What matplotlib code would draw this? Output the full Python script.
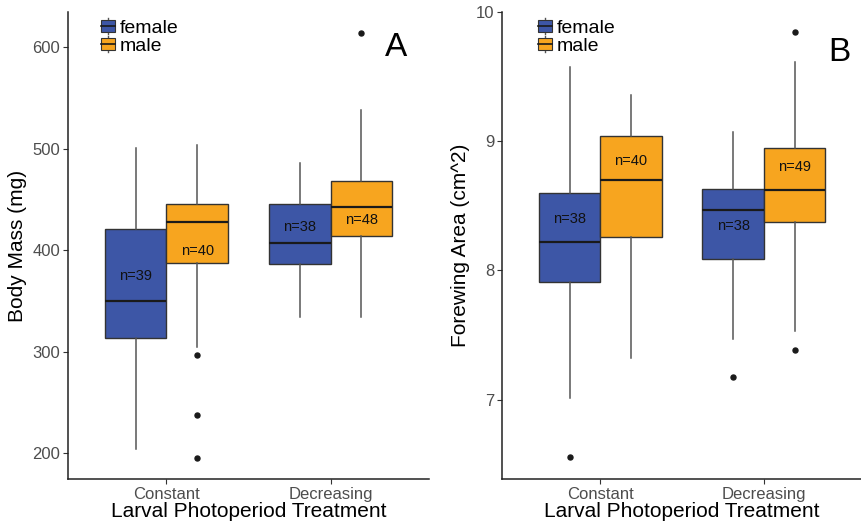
import matplotlib
matplotlib.use("Agg")
import matplotlib.pyplot as plt
from matplotlib.legend_handler import HandlerBase
from matplotlib.patches import Rectangle
from matplotlib.lines import Line2D

plt.rcParams['font.family'] = ['Liberation Sans', 'DejaVu Sans']

groups = ["Constant", "Decreasing"]
sexes = ["female", "male"]
colors = {"female": "#3D56A6", "male": "#F7A51F"}

# Panel A: body mass (mg), [Constant, Decreasing]
mass_q1 = {"female": [313.7, 386.9], "male": [387.6, 414.2]}
mass_med = {"female": [349.8, 406.9], "male": [428.3, 443.0]}
mass_q3 = {"female": [421.1, 445.3], "male": [445.3, 468.0]}
mass_lo = {"female": [204.3, 334.7], "male": [304.4, 334.7]}
mass_hi = {"female": [500.5, 485.7], "male": [503.4, 538.0]}
mass_out = {"female": [[], []], "male": [[297.0, 237.8, 195.5], [614.0]]}
mass_n = {"female": [39, 38], "male": [40, 48]}
mass_n_y = {"female": [374.8, 423.4], "male": [399.4, 429.6]}

# Panel B: forewing area (cm^2)
wing_q1 = {"female": [7.910, 8.085], "male": [8.255, 8.374]}
wing_med = {"female": [8.217, 8.469], "male": [8.701, 8.622]}
wing_q3 = {"female": [8.599, 8.627], "male": [9.044, 8.944]}
wing_lo = {"female": [7.013, 7.472], "male": [7.322, 7.528]}
wing_hi = {"female": [9.578, 9.070], "male": [9.357, 9.614]}
wing_out = {"female": [[6.557], [7.172]], "male": [[], [7.384, 9.842]]}
wing_n = {"female": [38, 38], "male": [40, 49]}
wing_n_y = {"female": [8.397, 8.346], "male": [8.848, 8.800]}


class BoxHandler(HandlerBase):
    def create_artists(self, legend, orig_handle, xdescent, ydescent,
                       width, height, fontsize, trans):
        c = orig_handle.get_facecolor()
        w = width * 0.8
        x0 = (width - w) / 2 - xdescent
        mid = height / 2 - ydescent
        wl = Line2D([x0 + w / 2, x0 + w / 2], [mid - height * 0.55, mid + height * 0.55],
                    color="#555555", lw=1, transform=trans)
        r = Rectangle((x0, mid - height * 0.42), w, height * 0.84, facecolor=c,
                      edgecolor="#333333", lw=0.8, transform=trans)
        m = Line2D([x0, x0 + w], [mid, mid], color="#1a1a1a", lw=1.2, transform=trans)
        return [wl, r, m]


def panel(ax, q1, med, q3, lo, hi, out, ns, n_y, ylab, letter, letter_xy, leg_x,
          yticks, ylim):
    for k, s in enumerate(sexes):
        stats = []
        for i in range(len(groups)):
            stats.append(dict(q1=q1[s][i], med=med[s][i], q3=q3[s][i],
                              whislo=lo[s][i], whishi=hi[s][i], fliers=out[s][i]))
        pos = [i + 1 + (k - 0.5) * 0.375 for i in range(len(groups))]
        ax.bxp(stats, positions=pos, widths=0.375, patch_artist=True, showcaps=False,
               boxprops=dict(facecolor=colors[s], edgecolor="#333333", lw=1),
               medianprops=dict(color="#1a1a1a", lw=1.6),
               whiskerprops=dict(color="#555555", lw=1.1),
               flierprops=dict(marker="o", markerfacecolor="#1a1a1a",
                               markeredgecolor="#1a1a1a", markersize=3.6),
               zorder=2)
        for i in range(len(groups)):
            ax.text(pos[i], n_y[s][i], "n=%d" % ns[s][i], ha="center", va="center",
                    fontsize=10.5, color="#111111", zorder=3)
    ax.set_xlim(0.4, 2.6)
    ax.set_ylim(*ylim)
    ax.set_xticks([1, 2])
    ax.set_xticklabels(groups)
    ax.set_yticks(yticks)
    ax.tick_params(colors="#333333", labelcolor="#4D4D4D", labelsize=12, length=3.5,
                   width=0.8, pad=2)
    for sp in ["top", "right"]:
        ax.spines[sp].set_visible(False)
    for sp in ["left", "bottom"]:
        ax.spines[sp].set_linewidth(1.1)
        ax.spines[sp].set_color("#222222")
    ax.set_xlabel("Larval Photoperiod Treatment", fontsize=15, labelpad=0)
    ax.set_ylabel(ylab, fontsize=15, labelpad=4)
    ax.text(letter_xy[0], letter_xy[1], letter, transform=ax.transAxes, fontsize=24,
            ha="center", va="center")
    handles = [Rectangle((0, 0), 1, 1, facecolor=colors[s]) for s in sexes]
    ax.legend(handles, sexes, loc="upper left", bbox_to_anchor=(leg_x, 0.985),
              frameon=False, fontsize=14, handler_map={Rectangle: BoxHandler()},
              handlelength=0.9, handleheight=0.75, handletextpad=0.15,
              labelspacing=0, borderaxespad=0, borderpad=0)


fig = plt.figure(figsize=(8.62, 5.29), dpi=100)
ax1 = fig.add_axes([0.0789, 0.0945, 0.4188, 0.8828])
ax2 = fig.add_axes([0.5824, 0.0945, 0.4176, 0.8828])

panel(ax1, mass_q1, mass_med, mass_q3, mass_lo, mass_hi, mass_out, mass_n, mass_n_y,
      "Body Mass (mg)", "A", (0.909, 0.925), 0.087, [200, 300, 400, 500, 600],
      (174.6, 634.9))
panel(ax2, wing_q1, wing_med, wing_q3, wing_lo, wing_hi, wing_out, wing_n, wing_n_y,
      "Forewing Area (cm^2)", "B", (0.936, 0.914), 0.095, [7, 8, 9, 10],
      (6.386, 10.0))

fig.savefig("out.png", dpi=100)
